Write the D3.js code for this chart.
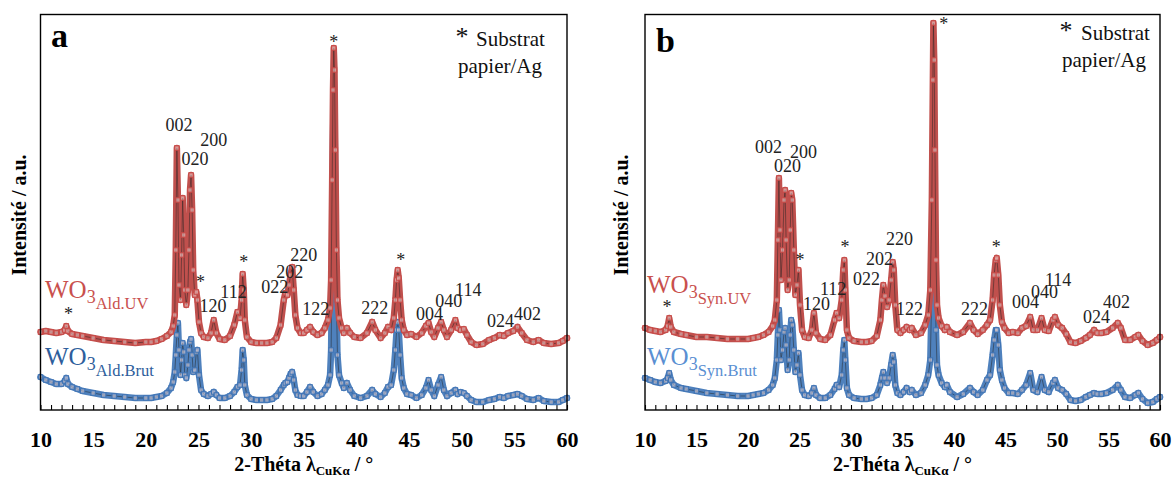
<!DOCTYPE html>
<html><head><meta charset="utf-8">
<script src="https://cdn.jsdelivr.net/npm/d3@7"></script>
<style>body{margin:0;background:#fff} svg{display:block} text{font-family:"Liberation Serif","Times New Roman",serif}</style>
</head><body><svg id="c" width="1172" height="477"></svg>
<script>
// ---------- DATA ----------
// Panel a : 2-theta (deg) and intensities (a.u., stacked offsets as drawn)
const thetaA = [10.0,10.5,11.0,11.5,12.0,12.3,12.45,12.6,13.0,13.5,
14.0,15.0,16.0,17.0,18.0,19.0,20.0,20.5,21.0,21.5,
22.0,22.4,22.6,22.75,22.85,22.95,23.05,23.15,23.3,23.4,
23.5,23.6,23.7,23.85,24.0,24.1,24.2,24.3,24.4,24.5,
24.65,24.8,24.9,25.05,25.25,25.5,25.9,26.2,26.45,26.7,
27.0,27.5,28.0,28.4,28.7,28.95,29.1,29.2,29.3,29.4,
29.6,30.0,30.5,31.0,31.5,32.0,32.4,32.8,33.1,33.25,
33.45,33.6,33.75,33.9,34.05,34.2,34.4,34.7,35.0,35.3,
35.6,35.9,36.3,36.7,37.0,37.3,37.5,37.6,37.7,37.78,
37.85,37.92,38.0,38.1,38.2,38.35,38.6,38.8,39.1,39.4,
39.8,40.4,41.0,41.5,41.8,42.3,42.7,43.0,43.3,43.55,
43.7,43.82,43.92,44.02,44.15,44.3,44.5,44.8,45.2,45.7,
46.2,46.6,46.85,47.1,47.4,47.75,48.05,48.3,48.6,49.0,
49.4,49.6,49.9,50.2,50.5,50.9,51.4,52.0,52.6,53.1,
53.6,54.0,54.4,54.9,55.3,55.7,56.2,56.8,57.3,57.8,
58.5,59.2,59.6,60.0];
const uvA = [78,79,78,77,78,80,84,79,76,75,
74,72,70,69,68,67,68,68,69,71,
74,78,84,95,160,262,210,125,110,155,
212,175,120,105,120,160,220,235,200,140,
115,118,110,88,77,73,72,77,90,77,
71,70,74,85,98,92,110,136,120,90,
73,68,67,67,67,68,72,85,110,117,
115,125,135,143,120,95,82,77,77,80,
83,78,75,77,82,90,102,130,230,320,
362,340,260,160,110,92,82,77,82,77,
73,72,77,88,80,72,77,83,80,92,
110,130,140,132,110,90,80,75,76,73,
77,84,87,78,73,82,88,80,73,80,
90,82,80,81,75,68,65,66,70,72,
75,74,77,79,83,77,70,68,70,67,
66,67,69,72];
const brutA = [33,30,28,26,26,29,32,26,23,21,
19,17,15,14,13,12,12,12,13,14,
17,22,28,38,55,75,87,60,35,50,
67,58,35,32,45,60,68,71,55,38,
40,58,60,35,20,16,14,16,18,15,
12,12,14,18,23,25,40,60,50,25,
15,11,10,10,10,11,14,20,25,27,
28,32,36,38,30,20,15,14,14,18,
23,18,14,16,20,25,35,60,160,270,
322,300,210,110,55,35,27,22,27,20,
14,12,14,20,16,13,17,23,25,40,
60,80,88,80,55,32,22,16,15,12,
15,22,30,20,14,25,33,20,14,17,
20,16,18,17,14,10,8,8,10,11,
13,12,14,15,16,14,11,10,12,9,
8,8,10,12];

// Panel b
const thetaB = [10.0,10.5,11.0,11.5,12.0,12.2,12.35,12.5,12.8,13.5,
14.0,15.0,16.0,17.0,18.0,19.0,20.0,20.5,21.0,21.5,
22.0,22.4,22.6,22.8,22.9,23.0,23.1,23.2,23.35,23.5,
23.6,23.7,23.85,24.0,24.1,24.2,24.3,24.45,24.6,24.75,
24.9,25.05,25.25,25.5,25.9,26.2,26.4,26.6,27.0,27.5,
28.0,28.4,28.6,28.85,29.1,29.25,29.35,29.45,29.6,29.8,
30.3,31.0,31.5,32.0,32.5,32.85,33.0,33.14,33.3,33.5,
33.7,33.9,34.05,34.15,34.3,34.5,34.8,35.1,35.4,35.7,
35.9,36.3,36.8,37.2,37.5,37.7,37.85,37.95,38.0,38.08,
38.15,38.25,38.35,38.5,38.8,39.1,39.3,39.6,40.3,40.9,
41.55,41.9,42.3,42.8,43.2,43.5,43.75,43.9,44.05,44.15,
44.3,44.45,44.65,44.9,45.3,45.7,46.2,46.6,47.0,47.4,
47.7,48.1,48.5,48.8,49.2,49.6,49.8,50.1,50.5,50.9,
51.3,51.8,52.3,52.8,53.2,53.6,53.9,54.3,54.8,55.4,
55.9,56.2,56.6,57.1,57.6,57.9,58.3,58.8,59.3,59.7,
60.0];
const uvB = [82,80,79,78,80,84,92,83,78,76,
75,73,73,72,71,71,71,72,73,75,
78,84,90,110,170,232,180,130,160,210,
220,170,120,130,180,217,210,160,115,125,
140,105,80,73,72,80,97,77,71,70,
75,90,97,92,110,140,150,120,80,72,
69,68,68,69,74,90,110,125,114,103,
110,130,148,140,105,80,77,80,83,80,
82,75,77,85,95,120,210,330,387,350,
260,150,105,92,84,80,83,78,75,78,
87,80,76,80,85,90,110,135,150,152,
135,105,88,82,77,78,77,82,84,93,
80,80,92,80,79,90,93,85,82,76,
68,67,69,72,75,80,77,77,78,82,
87,82,70,70,73,75,69,65,67,70,
73];
const brutB = [32,30,28,27,29,32,37,30,25,22,
21,19,17,16,15,14,14,15,16,17,
20,25,32,50,75,100,80,50,60,78,
82,65,40,50,75,90,85,60,38,45,
57,35,20,15,14,17,22,15,12,12,
15,21,25,23,35,60,70,50,22,15,
12,11,11,12,15,25,32,38,32,27,
32,45,55,48,25,17,15,18,22,18,
20,15,17,25,35,50,120,230,277,250,
170,80,45,35,27,23,25,18,13,16,
22,18,15,20,30,35,55,70,80,80,
65,40,30,22,17,17,16,20,25,37,
20,18,33,20,18,27,30,22,20,16,
10,9,10,13,15,17,16,16,17,20,
25,20,13,12,15,17,11,7,8,11,
13];

// Axis ticks
const xMajorTicks = [10,15,20,25,30,35,40,45,50,55,60];

// Reflection labels (hkl), with the position of each label in data units [2theta, intensity]
const hklNames = ["002","200","020","120","112","022","202","220","122","222","004","040","114","024","402"];
const hklPosA = [[21.86,279],[25.18,264],[23.38,245],[25.09,98],[27.08,112],[30.97,117],[32.39,132],[33.72,149],[34.86,95],[40.46,96],[45.67,90],[47.48,103],[49.37,114],[52.4,83],[54.97,90]];
const hklPosB = [[20.68,257],[24.08,252],[22.52,238],[25.34,100],[26.99,115],[30.19,125],[31.46,145],[33.40,165],[34.37,95],[40.68,95],[45.63,102],[47.48,112],[48.83,124],[52.52,87],[54.47,102]];
// substrate (*) markers
const starPosA = [[12.66,90],[25.2,122],[29.3,142],[37.85,362],[44.2,144]];
const starPosB = [[12.14,97],[25.05,144],[29.42,157],[39.0,380],[44.1,157]];

// ---------- DRAW ----------
const svg = d3.select("#c");
const TOP = 14, BOTTOM = 410;
const RED = "#C0504D", BLUE = "#4F81BD";

const panels = [
  {letter:"a", left:40.5, right:567, theta:thetaA, uv:uvA, brut:brutA, hkl:hklPosA, stars:starPosA,
   uvSub:"Ald.UV", brutSub:"Ald.Brut", uvLab:[45,298], brutLab:[45,365], brutCol:"#2E5E9C",
   letterPos:[51,47], subst:[[462,45],[476,46],[458,73]], yLabX:25.5},
  {letter:"b", left:645, right:1160, theta:thetaB, uv:uvB, brut:brutB, hkl:hklPosB, stars:starPosB,
   uvSub:"Syn.UV", brutSub:"Syn.Brut", uvLab:[647,293], brutLab:[647,365], brutCol:"#5A8FD2",
   letterPos:[656,52], subst:[[1066,39],[1081,40],[1062,67]], yLabX:628}
];

panels.forEach(p => {
  const x = d3.scaleLinear().domain([10,60]).range([p.left, p.right]);
  const y = d3.scaleLinear().domain([0,396]).range([BOTTOM, TOP]);
  const g = svg.append("g");

  // minor ticks (inward) every 1 deg
  g.append("g").attr("transform",`translate(0,${BOTTOM})`)
    .call(d3.axisBottom(x).tickValues(d3.range(10,61,1)).tickSizeInner(-5).tickSizeOuter(0).tickFormat(""))
    .call(s => s.select(".domain").remove())
    .selectAll("line").attr("stroke","#000").attr("stroke-width",1.1);
  // labels
  g.append("g").attr("transform",`translate(0,${BOTTOM})`)
    .call(d3.axisBottom(x).tickValues(xMajorTicks).tickSize(0).tickPadding(21).tickFormat(d3.format("d")))
    .call(s => s.select(".domain").remove())
    .selectAll("text").attr("font-family","'Liberation Serif',serif").attr("font-size",22)
    .attr("font-weight","bold").attr("fill","#000");

  const series = [
    {th:p.theta, v:p.brut, col:BLUE, mk:"#3f74b5"},
    {th:p.theta, v:p.uv, col:RED, mk:"#c84a47"}
  ];
  series.forEach(s => {
    const pts = s.th.map((t,i)=>[t, s.v[i]]);
    const line = d3.line().x(d=>x(d[0])).y(d=>y(d[1]));
    g.append("path").attr("d", line(pts)).attr("fill","none").attr("stroke", s.col)
      .attr("stroke-width",6.5).attr("stroke-linejoin","round").attr("stroke-linecap","round");
    g.append("path").attr("d", line(pts)).attr("fill","none").attr("stroke","#222")
      .attr("stroke-width",0.9).attr("opacity",0.55);
    g.selectAll(null).data(pts).enter().append("rect")
      .attr("x", d=>x(d[0])-2.2).attr("y", d=>y(d[1])-2.2).attr("width",4.4).attr("height",4.4)
      .attr("fill","#f3dede").attr("fill-opacity",0.5).attr("stroke", s.mk).attr("stroke-width",1.1);
  });

  // frame
  g.append("rect").attr("x",p.left).attr("y",TOP+0.5).attr("width",p.right-p.left).attr("height",BOTTOM-TOP-0.5)
    .attr("fill","none").attr("stroke","#000").attr("stroke-width",1.4);

  // hkl labels
  g.selectAll(null).data(p.hkl).enter().append("text")
    .attr("x", d=>x(d[0])).attr("y", d=>y(d[1])).attr("font-size",18).attr("fill","#222")
    .text((d,i)=>hklNames[i]);
  g.selectAll(null).data(p.stars).enter().append("text")
    .attr("x", d=>x(d[0])).attr("y", d=>y(d[1])).attr("font-size",18).attr("fill","#222")
    .attr("text-anchor","middle").text("*");

  // substrate legend
  g.append("text").attr("x",p.subst[0][0]).attr("y",p.subst[0][1]).attr("font-size",26)
    .attr("text-anchor","middle").attr("fill","#111").text("*");
  g.append("text").attr("x",p.subst[1][0]).attr("y",p.subst[1][1]).attr("font-size",21).attr("fill","#111").text("Substrat");
  g.append("text").attr("x",p.subst[2][0]).attr("y",p.subst[2][1]).attr("font-size",21).attr("fill","#111").text("papier/Ag");

  // panel letter
  g.append("text").attr("x",p.letterPos[0]).attr("y",p.letterPos[1]).attr("font-size",34)
    .attr("font-weight","bold").attr("fill","#000").text(p.letter);

  // series labels
  const lab = (pos, sub, col) => {
    const t = g.append("text").attr("x",pos[0]).attr("y",pos[1]).attr("fill",col);
    t.append("tspan").attr("font-size",25).text("WO");
    t.append("tspan").attr("font-size",18).attr("dy",5).text("3");
    t.append("tspan").attr("font-size",16.5).attr("dy",6).text(sub);
  };
  lab(p.uvLab, p.uvSub, "#C9504D");
  lab(p.brutLab, p.brutSub, p.brutCol);

  // axis titles
  const xt = g.append("text").attr("x",(p.left+p.right)/2).attr("y",471).attr("text-anchor","middle")
    .attr("font-size",20).attr("font-weight","bold").attr("fill","#000");
  xt.append("tspan").text("2-Théta λ");
  xt.append("tspan").attr("font-size",13).attr("dy",4).text("CuKα");
  xt.append("tspan").attr("dy",-4).text(" / °");

  g.append("text").attr("transform",`translate(${p.yLabX},215) rotate(-90)`).attr("text-anchor","middle")
    .attr("font-size",20).attr("font-weight","bold").attr("fill","#000").text("Intensité / a.u.");
});
</script></body></html>
